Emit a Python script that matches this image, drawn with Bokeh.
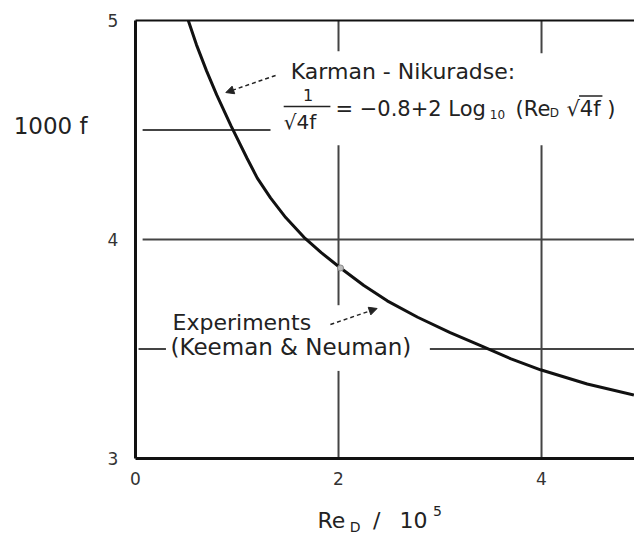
from bokeh.plotting import figure
from bokeh.models import Label, Arrow, NormalHead, ColumnDataSource
from bokeh.core.properties import value
from bokeh.embed import file_html
from bokeh.resources import INLINE

# ---- data ----
curve_x = [0.52, 0.60, 0.70, 0.80, 0.94, 1.10, 1.20, 1.33, 1.48, 1.66, 1.83, 2.02,
           2.25, 2.48, 2.78, 3.10, 3.40, 3.70, 3.99, 4.45, 4.91]
curve_y = [5.00, 4.89, 4.77, 4.66, 4.52, 4.37, 4.28, 4.19, 4.10, 4.01, 3.94, 3.87,
           3.79, 3.72, 3.645, 3.575, 3.515, 3.455, 3.405, 3.34, 3.29]
exp_x = [2.02]
exp_y = [3.87]
x_ticks = [0, 2, 4]
y_ticks = [3, 4, 5]
x_tick_labels = ["0", "2", "4"]
y_tick_labels = ["3", "4", "5"]

X_MIN = 0.0
Y_MIN, Y_MAX = 3.0, 5.0

# broken grid segments (layout of the figure)
grid_x0 = [0.07, 0.07, 0.03, 2.90, 2.0, 2.0, 2.0, 4.0, 4.0]
grid_y0 = [4.5, 4.0, 3.5, 3.5, 5.0, 4.43, 3.40, 5.0, 4.43]
grid_x1 = [1.33, 4.95, 0.30, 4.95, 2.0, 2.0, 2.0, 4.0, 4.0]
grid_y1 = [4.5, 4.0, 3.5, 3.5, 4.86, 3.70, 3.0, 4.85, 3.0]

FONT = "DejaVu Sans"
TXT = "#222222"

# frame covers the whole canvas: 101.5 px per x unit, 219 px per y unit
p = figure(width=634, height=540, x_range=(-1.330, 4.916), y_range=(2.6256, 5.0913),
           output_backend="svg", toolbar_location=None,
           min_border=0, min_border_left=0, min_border_right=0,
           min_border_top=0, min_border_bottom=0)
p.axis.visible = False
p.xgrid.visible = False
p.ygrid.visible = False
p.outline_line_color = None
p.background_fill_color = "white"
p.border_fill_color = "white"

# grid pieces
gsrc = ColumnDataSource(dict(x0=grid_x0, y0=grid_y0, x1=grid_x1, y1=grid_y1))
p.segment("x0", "y0", "x1", "y1", source=gsrc, line_color="#444444", line_width=2)

# axis lines: left, bottom, top
p.segment([X_MIN, X_MIN, X_MIN], [Y_MIN, Y_MIN, Y_MAX], [X_MIN, 5.0, 5.0], [Y_MAX, Y_MIN, Y_MAX],
          line_color="#111111", line_width=[3, 3, 2])

# tick labels
p.text(x=[-0.17] * len(y_ticks), y=y_ticks, text=y_tick_labels,
       text_font=value(FONT), text_font_size="17px", text_color="#333333",
       text_align="right", text_baseline="middle")
p.text(x=x_ticks, y=[2.909] * len(x_ticks), text=x_tick_labels,
       text_font=value(FONT), text_font_size="17px", text_color="#333333",
       text_align="center", text_baseline="middle")

# curve and experiment point
p.line(curve_x, curve_y, line_width=3, line_color="#111111")
p.scatter(exp_x, exp_y, size=6, fill_color="#bbbbbb", line_color="#888888")

def lab(x, y, text, size="21px", align="left", baseline="middle"):
    p.add_layout(Label(x=x, y=y, text=text, text_font=FONT, text_font_size=size,
                       text_color=TXT, text_align=align, text_baseline=baseline))

# y axis label
lab(-1.20, 4.52, "1000 f", size="23px")

# Karman - Nikuradse annotation
lab(1.53, 4.767, "Karman - Nikuradse:", size="22px")
p.add_layout(Arrow(end=NormalHead(size=8, fill_color=TXT, line_color=TXT),
                   x_start=1.38, y_start=4.749, x_end=0.89, y_end=4.671,
                   line_dash="4 3", line_width=1.5, line_color=TXT))
lab(1.70, 4.66, "1", align="center", size="16px")
p.segment([1.46], [4.607], [1.92], [4.607], line_color=TXT, line_width=1.5)
lab(1.46, 4.535, "\u221a4f", size="20px")
lab(1.97, 4.598, "= \u22120.8+2 Log", size="21px")
lab(3.49, 4.572, "10", size="12px")
lab(3.744, 4.598, "(Re", size="21px")
lab(4.08, 4.578, "D", size="12px")
lab(4.246, 4.598, "\u221a4f )", size="21px")
p.segment([4.37], [4.655], [4.60], [4.655], line_color=TXT, line_width=1.5)

# Experiments annotation
lab(0.365, 3.621, "Experiments", size="22px")
p.add_layout(Arrow(end=NormalHead(size=8, fill_color=TXT, line_color=TXT),
                   x_start=1.92, y_start=3.612, x_end=2.38, y_end=3.685,
                   line_dash="4 3", line_width=1.5, line_color=TXT))
lab(0.345, 3.507, "(Keeman & Neuman)", size="23px")

# x axis label
lab(1.793, 2.717, "Re", size="22px")
lab(2.11, 2.688, "D", size="14px")
lab(2.34, 2.717, "/", size="22px")
lab(2.60, 2.717, "10", size="22px")
lab(2.93, 2.76, "5", size="14px")

open("out.html", "w").write(file_html(p, INLINE))
